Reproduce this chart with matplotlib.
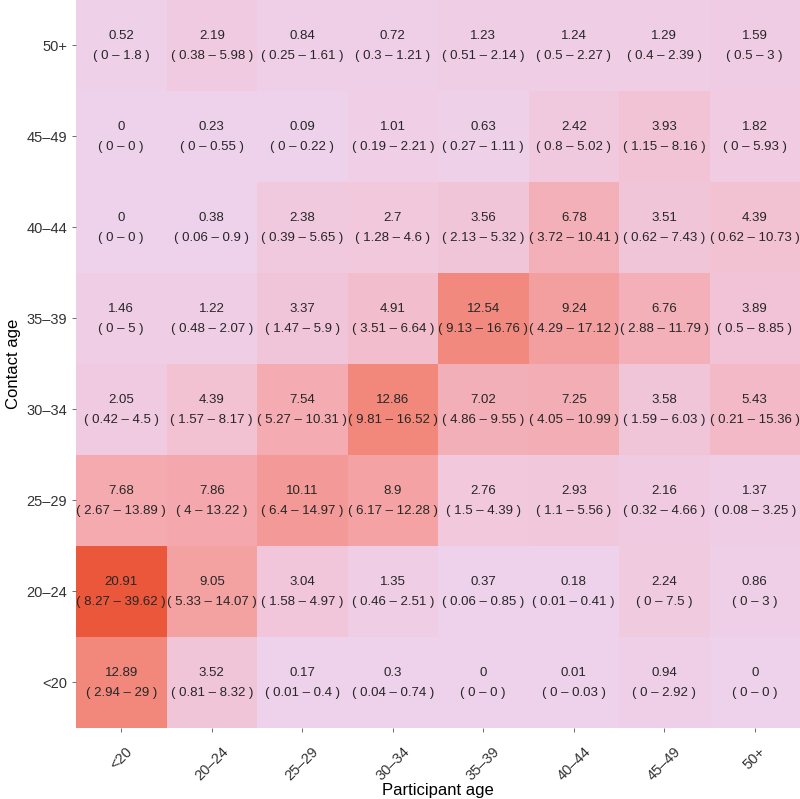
import numpy as np
import matplotlib
matplotlib.use("Agg")
import matplotlib.pyplot as plt
from matplotlib.colors import LinearSegmentedColormap

plt.rcParams['font.family'] = ['Liberation Sans', 'DejaVu Sans']

participant_age = ['<20', '20-24', '25-29', '30-34', '35-39', '40-44', '45-49', '50+']
contact_age = ['<20', '20-24', '25-29', '30-34', '35-39', '40-44', '45-49', '50+']

# rows = contact age (bottom to top), columns = participant age
means = [
    [12.89, 3.52, 0.17, 0.3, 0, 0.01, 0.94, 0],
    [20.91, 9.05, 3.04, 1.35, 0.37, 0.18, 2.24, 0.86],
    [7.68, 7.86, 10.11, 8.9, 2.76, 2.93, 2.16, 1.37],
    [2.05, 4.39, 7.54, 12.86, 7.02, 7.25, 3.58, 5.43],
    [1.46, 1.22, 3.37, 4.91, 12.54, 9.24, 6.76, 3.89],
    [0, 0.38, 2.38, 2.7, 3.56, 6.78, 3.51, 4.39],
    [0, 0.23, 0.09, 1.01, 0.63, 2.42, 3.93, 1.82],
    [0.52, 2.19, 0.84, 0.72, 1.23, 1.24, 1.29, 1.59],
]
lower = [
    [2.94, 0.81, 0.01, 0.04, 0, 0, 0, 0],
    [8.27, 5.33, 1.58, 0.46, 0.06, 0.01, 0, 0],
    [2.67, 4, 6.4, 6.17, 1.5, 1.1, 0.32, 0.08],
    [0.42, 1.57, 5.27, 9.81, 4.86, 4.05, 1.59, 0.21],
    [0, 0.48, 1.47, 3.51, 9.13, 4.29, 2.88, 0.5],
    [0, 0.06, 0.39, 1.28, 2.13, 3.72, 0.62, 0.62],
    [0, 0, 0, 0.19, 0.27, 0.8, 1.15, 0],
    [0, 0.38, 0.25, 0.3, 0.51, 0.5, 0.4, 0.5],
]
upper = [
    [29, 8.32, 0.4, 0.74, 0, 0.03, 2.92, 0],
    [39.62, 14.07, 4.97, 2.51, 0.85, 0.41, 7.5, 3],
    [13.89, 13.22, 14.97, 12.28, 4.39, 5.56, 4.66, 3.25],
    [4.5, 8.17, 10.31, 16.52, 9.55, 10.99, 6.03, 15.36],
    [5, 2.07, 5.9, 6.64, 16.76, 17.12, 11.79, 8.85],
    [0, 0.9, 5.65, 4.6, 5.32, 10.41, 7.43, 10.73],
    [0, 0.55, 0.22, 2.21, 1.11, 5.02, 8.16, 5.93],
    [1.8, 5.98, 1.61, 1.21, 2.14, 2.27, 2.39, 3],
]

cmap = LinearSegmentedColormap.from_list('contact', [
    (0.0, '#eed2ec'),
    (0.2, '#f2c2d4'),
    (0.4, '#f4a5a8'),
    (0.62, '#f2867a'),
    (1.0, '#ea573b'),
])

fig = plt.figure(figsize=(8, 7.99), dpi=100)
ax = fig.add_axes([0.095, 0.0889, 0.905, 0.9111])

m = np.array(means)
ax.pcolormesh(np.arange(9) - 0.5, np.arange(9) - 0.5, m, cmap=cmap, vmin=0, vmax=20.91)

for i in range(8):
    for j in range(8):
        ax.text(j, i + 0.1, '%g' % means[i][j], ha='center', va='center',
                fontsize=9.5, color='#262626')
        ax.text(j, i - 0.115, '( %g \u2013 %g )' % (lower[i][j], upper[i][j]),
                ha='center', va='center', fontsize=9.5, color='#262626')

ax.set_xlim(-0.5, 7.5)
ax.set_ylim(-0.5, 7.5)
ax.set_xticks(range(8))
ax.set_xticklabels([s.replace('-', '\u2013') for s in participant_age],
                   rotation=45, ha='center', va='top')
ax.set_yticks(range(8))
ax.set_yticklabels([s.replace('-', '\u2013') for s in contact_age])
ax.tick_params(axis='both', labelsize=10.5, labelcolor='#333333', color='#555555',
               length=3, width=0.6)
ax.tick_params(axis='x', pad=9)
for s in ax.spines.values():
    s.set_visible(False)

ax.set_xlabel('Participant age', fontsize=12, labelpad=0)
ax.set_ylabel('Contact age', fontsize=12, labelpad=4)

fig.savefig('out.png', dpi=100)
